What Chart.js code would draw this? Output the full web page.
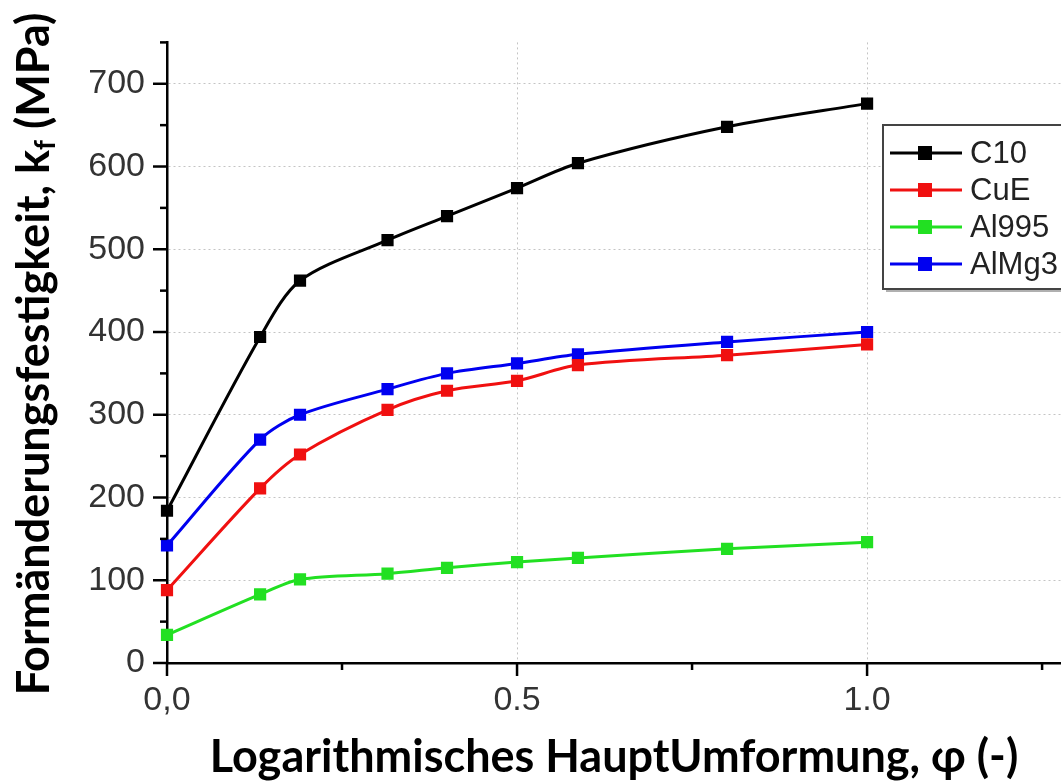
<!DOCTYPE html>
<html>
<head>
<meta charset="utf-8">
<script src="https://cdn.jsdelivr.net/npm/chart.js@4/dist/chart.umd.min.js"></script>
<style>
    body { margin: 0; background: #fff; }
    #wrap { width: 1061px; height: 784px; position: relative; }
</style>
</head>
<body>
<div id="wrap"><canvas id="flowChart"></canvas></div>
<script>
// Logarithmic strain phi and flow stress kf (MPa) per material
let phi = [0, 0.133, 0.19, 0.315, 0.4, 0.5, 0.587, 0.8, 1.0];
let c10 = [184, 394, 462, 511, 540, 574, 604, 648, 676];
let cuE = [88, 211, 252, 306, 329, 341, 360, 372, 385];
let al995 = [34, 83, 101, 108, 115, 122, 127, 138, 146];
let alMg3 = [142, 270, 300, 331, 350, 362, 373, 388, 400];

let seriesNames = ["C10", "CuE", "Al995", "AlMg3"];
let xTickLabels = { "0": "0,0", "0.5": "0.5", "1": "1.0" };
let yTickLabels = ["0", "100", "200", "300", "400", "500", "600", "700"];

let xTitle = "Logarithmisches HauptUmformung, φ (-)";
let yTitleMain = "Formänderungsfestigkeit, k";
let yTitleSub = "f";
let yTitleTail = " (MPa)";

function toPoints(ys) {
    return ys.map((y, i) => ({ x: phi[i], y: y }));
}

function makeSet(label, ys, color) {
    return {
        label: label,
        data: toPoints(ys),
        borderColor: color,
        backgroundColor: color,
        borderWidth: 3,
        pointStyle: 'rect',
        pointRadius: 6.5,
        pointHoverRadius: 6.5,
        tension: 0.3,
        clip: false
    };
}

let gridDots = '#c4c4c4';

// tick marks: long for labelled ticks, short for the minor ones
let tickMarks = {
    id: 'tickMarks',
    afterDraw(chart) {
        let ctx = chart.ctx;
        let xs = chart.scales.x, ys = chart.scales.y;
        ctx.save();
        ctx.strokeStyle = '#000';
        ctx.lineWidth = 2.5;
        for (let v = 0; v <= 750; v += 50) {
            let y = ys.getPixelForValue(v);
            let len = v % 100 === 0 ? 14 : 7;
            ctx.beginPath();
            ctx.moveTo(xs.left, y);
            ctx.lineTo(xs.left - len, y);
            ctx.stroke();
        }
        for (let v = 0; v <= 1.25; v += 0.25) {
            let x = xs.getPixelForValue(v);
            let len = Math.abs(v * 2 - Math.round(v * 2)) < 1e-6 ? 13 : 7;
            ctx.beginPath();
            ctx.moveTo(x, ys.bottom);
            ctx.lineTo(x, ys.bottom + len);
            ctx.stroke();
        }
        ctx.restore();
    }
};

// rotated y title with subscript f
let yTitle = {
    id: 'yTitle',
    afterDraw(chart) {
        let ctx = chart.ctx;
        let big = 'bold 45px Lato';
        let small = 'bold 28px Lato';
        ctx.save();
        ctx.fillStyle = '#000';
        ctx.font = big;
        let w1 = ctx.measureText(yTitleMain).width;
        let w3 = ctx.measureText(yTitleTail).width;
        ctx.font = small;
        let w2 = ctx.measureText(yTitleSub).width;
        let total = w1 + w2 + w3;
        ctx.translate(34, 354);
        ctx.rotate(-Math.PI / 2);
        ctx.textBaseline = 'middle';
        ctx.textAlign = 'left';
        let x0 = -total / 2;
        ctx.font = big;
        ctx.fillText(yTitleMain, x0, 0);
        ctx.font = small;
        ctx.fillText(yTitleSub, x0 + w1, 12);
        ctx.font = big;
        ctx.fillText(yTitleTail, x0 + w1 + w2, 0);
        ctx.restore();
    }
};

// boxed legend: line with square marker, then the name
let boxLegend = {
    id: 'boxLegend',
    afterDraw(chart) {
        let ctx = chart.ctx;
        let left = 883, top = 125, bottom = 289;
        ctx.save();
        ctx.fillStyle = '#fff';
        ctx.fillRect(left, top, 1061 - left, bottom - top);
        ctx.strokeStyle = '#b0b0b0';
        ctx.lineWidth = 2;
        ctx.beginPath();
        ctx.moveTo(left + 3, bottom + 2);
        ctx.lineTo(1061, bottom + 2);
        ctx.stroke();
        ctx.strokeStyle = '#444';
        ctx.lineWidth = 2;
        ctx.strokeRect(left, top, 1061 - left + 5, bottom - top);
        chart.data.datasets.forEach((ds, i) => {
            let y = 153 + i * 37;
            ctx.strokeStyle = ds.borderColor;
            ctx.lineWidth = 3;
            ctx.beginPath();
            ctx.moveTo(890, y);
            ctx.lineTo(962, y);
            ctx.stroke();
            ctx.fillStyle = ds.borderColor;
            ctx.fillRect(918, y - 7, 14, 14);
            ctx.fillStyle = '#222';
            ctx.font = '31px "Liberation Sans"';
            ctx.textBaseline = 'middle';
            ctx.fillText(ds.label, 970, y + 1);
        });
        ctx.restore();
    }
};

let ctxF = document.getElementById("flowChart").getContext('2d');

let flowChart = new Chart(ctxF, {
    type: 'line',
    data: {
        datasets: [
            makeSet(seriesNames[0], c10, '#000000'),
            makeSet(seriesNames[1], cuE, '#f01010'),
            makeSet(seriesNames[2], al995, '#22e022'),
            makeSet(seriesNames[3], alMg3, '#0000f0')
        ]
    },
    options: {
        responsive: true,
        maintainAspectRatio: false,
        animation: false,
        layout: { autoPadding: false, padding: { top: 38, right: 0, left: 0, bottom: 0 } },
        plugins: {
            legend: { display: false },
            tooltip: { enabled: false }
        },
        scales: {
            x: {
                type: 'linear',
                min: 0,
                max: 1.277,
                afterFit(scale) {
                    scale.height = 121;
                    scale.paddingRight = 0;
                    scale.paddingLeft = 0;
                },
                ticks: {
                    stepSize: 0.25,
                    autoSkip: false,
                    maxRotation: 0,
                    padding: 17,
                    color: '#333',
                    font: { family: '"Liberation Sans"', size: 34 },
                    callback: (v) => xTickLabels[String(v)] || ''
                },
                grid: {
                    drawTicks: false,
                    lineWidth: 1,
                    color: (c) => (c.tick && (c.tick.value === 0.5 || c.tick.value === 1)) ? gridDots : 'rgba(0,0,0,0)'
                },
                border: { display: true, color: '#000', width: 2.5, dash: [2, 3] },
                title: {
                    display: true,
                    text: xTitle,
                    color: '#000',
                    font: { family: 'Lato', size: 45, weight: 'bold' },
                    padding: { top: 0, bottom: 0 }
                }
            },
            y: {
                min: 0,
                max: 750,
                afterFit(scale) { scale.width = 167; },
                ticks: {
                    stepSize: 50,
                    autoSkip: false,
                    padding: 22,
                    color: '#333',
                    font: { family: '"Liberation Sans"', size: 34 },
                    callback: (v) => (v % 100 === 0 && v <= 700) ? yTickLabels[v / 100] : ''
                },
                grid: {
                    drawTicks: false,
                    lineWidth: 1,
                    color: (c) => (c.tick && c.tick.value % 100 === 0 && c.tick.value > 0 && c.tick.value < 750) ? gridDots : 'rgba(0,0,0,0)'
                },
                border: { display: true, color: '#000', width: 2.5, dash: [2, 3] }
            }
        }
    },
    plugins: [tickMarks, yTitle, boxLegend]
});
</script>
</body>
</html>
